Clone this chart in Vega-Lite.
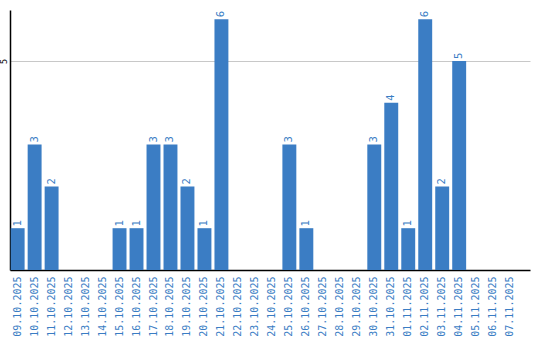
{
  "$schema": "https://vega.github.io/schema/vega-lite/v6.json",
  "width": 520,
  "height": 260,
  "autosize": "none",
  "padding": {"left": 10, "top": 10, "right": 10, "bottom": 70},
  "background": "white",
  "config": {"view": {"stroke": null}},
  "data": {"values": [
    {"date": "09.10.2025", "v": 1},
    {"date": "10.10.2025", "v": 3},
    {"date": "11.10.2025", "v": 2},
    {"date": "12.10.2025", "v": 0},
    {"date": "13.10.2025", "v": 0},
    {"date": "14.10.2025", "v": 0},
    {"date": "15.10.2025", "v": 1},
    {"date": "16.10.2025", "v": 1},
    {"date": "17.10.2025", "v": 3},
    {"date": "18.10.2025", "v": 3},
    {"date": "19.10.2025", "v": 2},
    {"date": "20.10.2025", "v": 1},
    {"date": "21.10.2025", "v": 6},
    {"date": "22.10.2025", "v": 0},
    {"date": "23.10.2025", "v": 0},
    {"date": "24.10.2025", "v": 0},
    {"date": "25.10.2025", "v": 3},
    {"date": "26.10.2025", "v": 1},
    {"date": "27.10.2025", "v": 0},
    {"date": "28.10.2025", "v": 0},
    {"date": "29.10.2025", "v": 0},
    {"date": "30.10.2025", "v": 3},
    {"date": "31.10.2025", "v": 4},
    {"date": "01.11.2025", "v": 1},
    {"date": "02.11.2025", "v": 6},
    {"date": "03.11.2025", "v": 2},
    {"date": "04.11.2025", "v": 5},
    {"date": "05.11.2025", "v": 0},
    {"date": "06.11.2025", "v": 0},
    {"date": "07.11.2025", "v": 0}
  ]},
  "encoding": {
    "x": {
      "field": "date", "type": "nominal", "sort": null,
      "scale": {"paddingInner": 0.18, "paddingOuter": 0.4, "align": 0.05},
      "axis": {
        "title": null, "labelAngle": -90, "labelColor": "#3a7dc4",
        "labelFont": "DejaVu Sans Mono", "labelFontSize": 10, "labelPadding": 6,
        "ticks": false, "domainColor": "#000000", "domainWidth": 1.5,
        "labelBaseline": "middle", "labelAlign": "right"
      }
    },
    "y": {
      "field": "v", "type": "quantitative",
      "scale": {"domain": [0, 6.22], "nice": false},
      "axis": {
        "title": null, "values": [5], "labelAngle": -90, "labelFontSize": 8,
        "labelFont": "DejaVu Sans", "labelColor": "#000000", "ticks": false,
        "labelPadding": 2, "labelAlign": "center", "labelBaseline": "bottom",
        "domainColor": "#000000", "domainWidth": 1.5,
        "grid": true, "gridColor": "#c8c8c8", "gridWidth": 1
      }
    }
  },
  "layer": [
    {"mark": {"type": "bar", "color": "#3b7dc4"}},
    {
      "transform": [{"filter": "datum.v > 0"}],
      "mark": {"type": "text", "angle": -90, "align": "left", "baseline": "middle", "dx": 2, "color": "#3a7dc4", "font": "DejaVu Sans", "fontSize": 10},
      "encoding": {"text": {"field": "v", "type": "quantitative"}}
    }
  ]
}
